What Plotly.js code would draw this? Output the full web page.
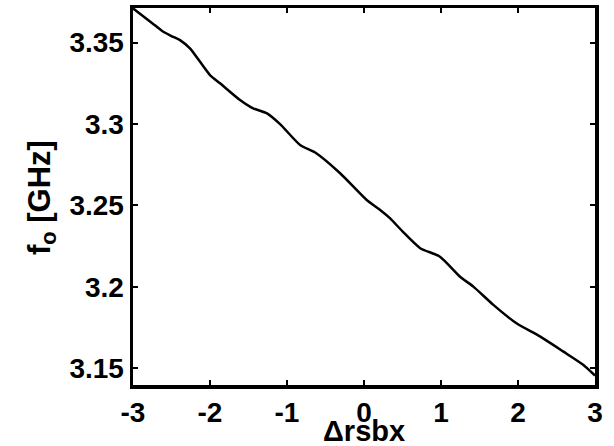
<!DOCTYPE html>
<html>
<head>
<meta charset="utf-8">
<script src="https://cdn.plot.ly/plotly-3.0.1.min.js"></script>
<style>html,body{margin:0;padding:0;background:#fff;}#chart{width:614px;height:446px;}</style>
</head>
<body>
<div id="chart"></div>
<script>
var deltaRsbx = [-3, -2.75, -2.607, -2.5, -2.39, -2.26, -2.0, -1.87, -1.61, -1.44, -1.26, -1.09, -0.83, -0.62, -0.31, 0.035, 0.21, 0.34, 0.5, 0.73, 0.987, 1.247, 1.42, 1.68, 1.98, 2.29, 2.59, 2.85, 3.0];
var freqGHz = [3.371, 3.3619, 3.3566, 3.354, 3.3515, 3.3464, 3.330, 3.325, 3.3147, 3.3096, 3.3065, 3.2999, 3.2871, 3.282, 3.2697, 3.2533, 3.2472, 3.242, 3.234, 3.2237, 3.2185, 3.2062, 3.2001, 3.1889, 3.1776, 3.1694, 3.1602, 3.152, 3.1455];
var xTicks = [-3, -2, -1, 0, 1, 2, 3];
var xTickText = ['-3', '-2', '-1', '0', '1', '2', '3'];
var yTicks = [3.15, 3.2, 3.25, 3.3, 3.35];
var yTickText = ['3.15', '3.2', '3.25', '3.3', '3.35'];
var xTitle = 'Δrsbx';
var yTitle = 'f<sub>o</sub> [GHz]';

var fontFam = 'Arial, "Liberation Sans", Helvetica, sans-serif';
var trace = {
  x: deltaRsbx, y: freqGHz, type: 'scatter', mode: 'lines',
  line: {color: '#000', width: 2.5, shape: 'spline', smoothing: 0.6},
  hoverinfo: 'none'
};
var axisCommon = {
  showline: true, linecolor: '#000', linewidth: 3.5, mirror: 'ticks',
  ticks: 'inside', ticklen: 5, tickwidth: 2, tickcolor: '#000',
  showgrid: false, zeroline: false,
  tickfont: {family: fontFam, size: 28, color: '#000', weight: 'bold'}
};
var layout = {
  width: 614, height: 446,
  margin: {l: 133, r: 19, t: 8, b: 61},
  paper_bgcolor: '#fff', plot_bgcolor: '#fff',
  showlegend: false,
  xaxis: Object.assign({}, axisCommon, {
    range: [-3, 3], tickmode: 'array', tickvals: xTicks, ticktext: xTickText
  }),
  yaxis: Object.assign({}, axisCommon, {
    range: [3.1397, 3.3712], tickmode: 'array', tickvals: yTicks, ticktext: yTickText
  }),
  annotations: [
    {text: xTitle, xref: 'paper', yref: 'paper', x: 0.5, y: -0.170, xanchor: 'center', yanchor: 'bottom',
     showarrow: false, font: {family: fontFam, size: 29, color: '#000', weight: 'bold'}},
    {text: yTitle, xref: 'paper', yref: 'paper', x: -0.197, y: 0.4987, xanchor: 'center', yanchor: 'middle',
     textangle: -90, showarrow: false, font: {family: fontFam, size: 31, color: '#000', weight: 'bold'}}
  ]
};
Plotly.newPlot('chart', [trace], layout, {staticPlot: true, displayModeBar: false});
</script>
</body>
</html>
